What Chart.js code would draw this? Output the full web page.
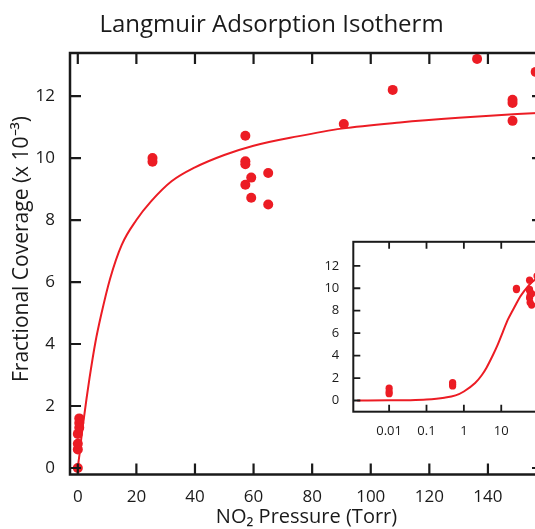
<!DOCTYPE html>
<html lang="en">
<head>
<meta charset="UTF-8">
<title>Langmuir Adsorption Isotherm</title>
<script src="https://cdn.jsdelivr.net/npm/chart.js@4.4.0/dist/chart.umd.min.js"></script>
<style>
  html, body { margin: 0; padding: 0; background: #fff; overflow: hidden; }
  #wrap { position: relative; width: 535px; height: 529px; overflow: hidden; }
  #mainChart { position: absolute; left: 0; top: 0; }
  /* inset sits on top of the main plot, white so it hides what is under it */
  #insetChart { position: absolute; left: 300px; top: 228px; background: #fff; }
</style>
</head>
<body>
<div id="wrap">
  <canvas id="mainChart" width="616" height="529"></canvas>
  <canvas id="insetChart" width="320" height="215"></canvas>
</div>
<script>
// measured NO2 pressure (Torr) and fractional coverage (x 10^-3)
const pressure = [0, 0.01, 0.01, 0.01, 0.5, 0.5, 0.5, 25.5, 25.5, 57.2, 57.2, 57.2, 57.2, 59.2, 59.2, 65, 65, 90.8, 107.5, 136.3, 148.4, 148.4, 148.4, 156.3];
const coverage = [0, 0.6, 0.78, 1.1, 1.3, 1.45, 1.6, 10.0, 9.88, 10.72, 9.9, 9.8, 9.14, 9.37, 8.72, 9.52, 8.5, 11.1, 12.2, 13.2, 11.88, 11.78, 11.2, 12.78];

// fitted isotherm
const fitPressure = [0, 0.0014, 0.01, 0.03, 0.1, 0.3, 0.6, 1, 2, 3, 4, 6, 8, 11, 15, 20, 25, 32, 40, 50, 60, 75, 90, 110, 130, 150, 170];
const fitCoverage = [0, 0, 0.01, 0.025, 0.08, 0.24, 0.45, 0.8, 1.55, 2.25, 2.9, 4.05, 4.95, 6.1, 7.2, 8.0, 8.6, 9.25, 9.7, 10.1, 10.4, 10.7, 10.95, 11.15, 11.3, 11.42, 11.52];

const xTicks = [0, 20, 40, 60, 80, 100, 120, 140];
const yTicks = [0, 2, 4, 6, 8, 10, 12];
const insetXTicks = [0.01, 0.1, 1, 10];
const insetXLabels = ['0.01', '0.1', '1', '10'];
const insetYTicks = [0, 2, 4, 6, 8, 10, 12];

const red = '#ec1c24';
const ink = '#1a1a1a';
Chart.defaults.font.family = "'Open Sans', sans-serif";
Chart.defaults.color = ink;

const points = pressure.map((p, i) => ({ x: p, y: coverage[i] }));
const fit = fitPressure.map((p, i) => ({ x: p, y: fitCoverage[i] }));

// closed frame with ticks pointing into the plot on all four sides
const boxTicks = {
  id: 'boxTicks',
  afterDraw(chart, args, opts) {
    const { ctx, chartArea: a, scales: { x, y } } = chart;
    ctx.save();
    ctx.strokeStyle = ink;
    ctx.lineWidth = opts.tickWidth;
    ctx.beginPath();
    x.ticks.forEach(t => {
      const px = x.getPixelForValue(t.value);
      ctx.moveTo(px, a.bottom); ctx.lineTo(px, a.bottom - opts.len);
      ctx.moveTo(px, a.top); ctx.lineTo(px, a.top + opts.len);
    });
    y.ticks.forEach(t => {
      const py = y.getPixelForValue(t.value);
      ctx.moveTo(a.left, py); ctx.lineTo(a.left + opts.len, py);
      ctx.moveTo(a.right, py); ctx.lineTo(a.right - opts.len, py);
    });
    ctx.stroke();
    ctx.lineWidth = opts.frameWidth;
    ctx.strokeRect(a.left, a.top, a.right - a.left, a.bottom - a.top);
    ctx.restore();
  }
};

// vertical axis label, placed a little above the middle of the axis like the original
const yLabel = {
  id: 'yLabel',
  afterDraw(chart, args, opts) {
    if (!opts.text) return;
    const { ctx } = chart;
    ctx.save();
    ctx.translate(opts.x, opts.y);
    ctx.rotate(-Math.PI / 2);
    ctx.font = opts.size + "px 'Open Sans', sans-serif";
    ctx.fillStyle = ink;
    ctx.textAlign = 'center';
    ctx.textBaseline = 'middle';
    ctx.fillText(opts.text, 0, 0);
    ctx.restore();
  }
};

new Chart(document.getElementById('mainChart'), {
  type: 'scatter',
  data: {
    datasets: [
      { data: fit, showLine: true, borderColor: red, borderWidth: 2, pointRadius: 0, cubicInterpolationMode: 'monotone', order: 2 },
      { data: points, backgroundColor: red, borderWidth: 0, pointRadius: 5, order: 1 }
    ]
  },
  options: {
    responsive: false,
    animation: false,
    devicePixelRatio: 1,
    layout: { padding: { left: 0, right: 73, top: 0, bottom: 0 } },
    plugins: {
      legend: { display: false },
      tooltip: { enabled: false },
      title: {
        display: true,
        text: 'Langmuir Adsorption Isotherm',
        color: ink,
        font: { size: 24, weight: 'normal' },
        padding: { top: 11, bottom: 13.2 }
      },
      boxTicks: { len: 11, tickWidth: 2.2, frameWidth: 2.5 },
      yLabel: { text: 'Fractional Coverage (x 10⁻³)', x: 22, y: 249, size: 21 }
    },
    scales: {
      x: {
        type: 'linear',
        min: -2.66,
        max: 158.8,
        grid: { display: false },
        border: { display: false },
        afterBuildTicks: s => { s.ticks = xTicks.map(v => ({ value: v })); },
        afterFit: s => { s.height = 54.5; },
        ticks: { font: { size: 17 }, padding: 4, maxRotation: 0, callback: v => String(v) },
        title: { display: true, text: 'NO₂ Pressure (Torr)', font: { size: 20 }, padding: { top: 0, bottom: 0 } }
      },
      y: {
        min: -0.21,
        max: 13.39,
        grid: { display: false },
        border: { display: false },
        afterBuildTicks: s => { s.ticks = yTicks.map(v => ({ value: v })); },
        afterFit: s => { s.width = 70; },
        ticks: { font: { size: 17 }, padding: 7, callback: v => String(v) }
      }
    }
  },
  plugins: [boxTicks, yLabel]
});

new Chart(document.getElementById('insetChart'), {
  type: 'scatter',
  data: {
    datasets: [
      { data: fit.filter(d => d.x > 0), showLine: true, borderColor: red, borderWidth: 2, pointRadius: 0, cubicInterpolationMode: 'monotone', order: 2 },
      { data: points.filter(d => d.x > 0), backgroundColor: red, borderWidth: 0, pointRadius: 3.6, order: 1 }
    ]
  },
  options: {
    responsive: false,
    animation: false,
    devicePixelRatio: 1,
    layout: { padding: { left: 0, right: 44, top: 7, bottom: 0 } },
    plugins: {
      legend: { display: false },
      tooltip: { enabled: false },
      boxTicks: { len: 7, tickWidth: 1.8, frameWidth: 2 }
    },
    scales: {
      x: {
        type: 'logarithmic',
        min: 0.0011,
        max: 1000,
        grid: { display: false },
        border: { display: false },
        afterBuildTicks: s => { s.ticks = insetXTicks.map(v => ({ value: v })); },
        afterFit: s => { s.height = 31.3; },
        ticks: { font: { size: 13 }, padding: 4, maxRotation: 0, autoSkip: false, callback: (v, i) => insetXLabels[i] }
      },
      y: {
        min: -1.0,
        max: 14.14,
        grid: { display: false },
        border: { display: false },
        afterBuildTicks: s => { s.ticks = insetYTicks.map(v => ({ value: v })); },
        afterFit: s => { s.width = 53.3; },
        ticks: { font: { size: 13 }, padding: 6, callback: v => String(v) }
      }
    }
  },
  plugins: [boxTicks]
});
</script>
</body>
</html>
